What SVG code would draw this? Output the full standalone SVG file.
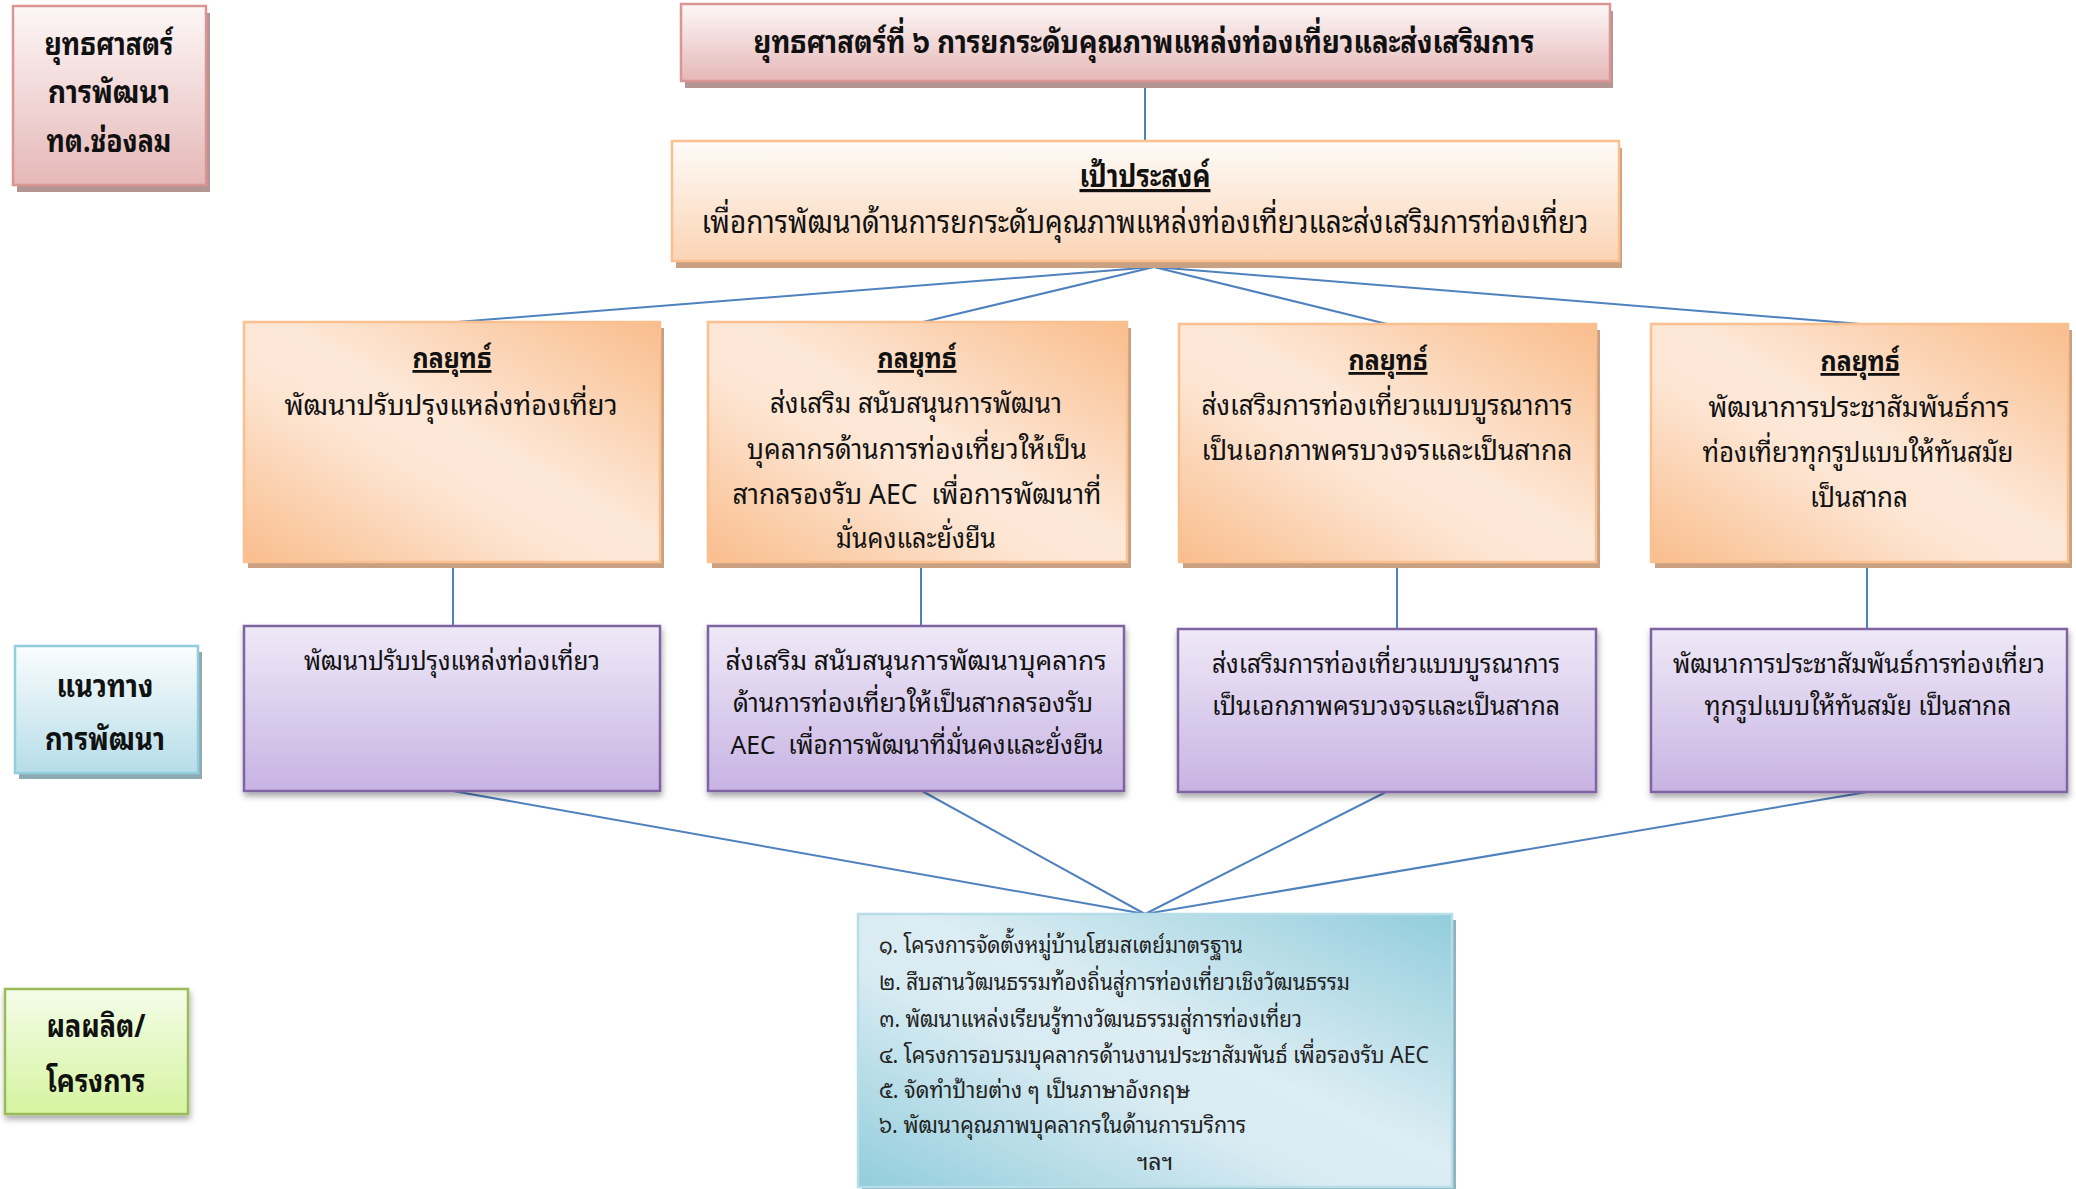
<svg xmlns="http://www.w3.org/2000/svg" width="2076" height="1189" viewBox="0 0 2076 1189">
<style>
  text { font-family: "Noto Sans Thai Looped", "Noto Serif Thai", "Loma", "Garuda", "Noto Sans Thai", "Tahoma", "Noto Sans", "Liberation Sans", sans-serif; fill: #111; }
  .b { font-weight: bold; }
  .h { font-size: 32px; }
  .m { font-size: 28px; }
  .s { font-size: 26px; }
  .p { font-size: 23px; fill: #222; }
  .c { text-anchor: middle; }
  .u { text-decoration: underline; font-weight: bold; }
  .conn { stroke: #4f81bd; stroke-width: 2; fill: none; }
  .pink { fill: url(#gPink); stroke: #d99694; stroke-width: 2.5; }
  .pinkSh { fill: #b39593; }
  .obj { fill: url(#gObj); stroke: #fac090; stroke-width: 2.5; }
  .orSh { fill: #c9a182; }
  .strat { fill: url(#gStrat); stroke: #fac090; stroke-width: 2.5; }
  .purp { fill: url(#gPurp); stroke: #8064a2; stroke-width: 2.5; filter: url(#soft); }
  .guide { fill: url(#gGuide); stroke: #93cddd; stroke-width: 2.5; }
  .guideSh { fill: #8eaab2; }
  .green { fill: url(#gGreen); stroke: #9bbb59; stroke-width: 2.5; filter: url(#soft); }
  .prod { fill: url(#gProd); stroke: #b7dde8; stroke-width: 2.5; }
  .prodSh { fill: #8fb4c1; }
</style>
<defs>
  <linearGradient id="gPink" x1="0" y1="0" x2="0" y2="1">
    <stop offset="0" stop-color="#fdf7f7"/>
    <stop offset="1" stop-color="#e5b8b7"/>
  </linearGradient>
  <linearGradient id="gObj" x1="0" y1="0" x2="0" y2="1">
    <stop offset="0" stop-color="#fefbf8"/>
    <stop offset="1" stop-color="#fbd4b4"/>
  </linearGradient>
  <linearGradient id="gStrat" x1="1" y1="0" x2="0" y2="1">
    <stop offset="0" stop-color="#f9bd8c"/>
    <stop offset="0.45" stop-color="#fde7d6"/>
    <stop offset="0.6" stop-color="#fde6d4"/>
    <stop offset="1" stop-color="#f9bd8c"/>
  </linearGradient>
  <linearGradient id="gPurp" x1="0" y1="0" x2="0" y2="1">
    <stop offset="0" stop-color="#efe9f7"/>
    <stop offset="1" stop-color="#c7b3e3"/>
  </linearGradient>
  <linearGradient id="gGuide" x1="0" y1="0" x2="0" y2="1">
    <stop offset="0" stop-color="#fafdfe"/>
    <stop offset="1" stop-color="#b6dde8"/>
  </linearGradient>
  <linearGradient id="gGreen" x1="0" y1="0" x2="0" y2="1">
    <stop offset="0" stop-color="#f4fde9"/>
    <stop offset="1" stop-color="#d5f4a0"/>
  </linearGradient>
  <linearGradient id="gProd" x1="1" y1="0" x2="0" y2="1">
    <stop offset="0" stop-color="#92cddc"/>
    <stop offset="0.45" stop-color="#dcedf3"/>
    <stop offset="0.6" stop-color="#d8ebf2"/>
    <stop offset="1" stop-color="#92cddc"/>
  </linearGradient>
  <filter id="soft" x="-10%" y="-10%" width="120%" height="130%">
    <feDropShadow dx="1" dy="4" stdDeviation="3" flood-color="#000" flood-opacity="0.35"/>
  </filter>
</defs>

<g id="connectors">
  <line class="conn" x1="1145" y1="88" x2="1145" y2="141"/>
  <line class="conn" x1="1154" y1="267" x2="457" y2="322"/>
  <line class="conn" x1="1154" y1="267" x2="923" y2="322"/>
  <line class="conn" x1="1154" y1="267" x2="1387" y2="324"/>
  <line class="conn" x1="1154" y1="267" x2="1861" y2="324"/>
  <line class="conn" x1="453" y1="568" x2="453" y2="626"/>
  <line class="conn" x1="921" y1="568" x2="921" y2="626"/>
  <line class="conn" x1="1397" y1="568" x2="1397" y2="629"/>
  <line class="conn" x1="1867" y1="568" x2="1867" y2="629"/>
  <line class="conn" x1="453" y1="791" x2="1145" y2="914"/>
  <line class="conn" x1="922" y1="791" x2="1145" y2="914"/>
  <line class="conn" x1="1386" y1="792" x2="1145" y2="914"/>
  <line class="conn" x1="1867" y1="792" x2="1145" y2="914"/>
</g>

<g id="label-strategy">
  <rect class="pinkSh" x="17" y="13" width="193" height="179"/>
  <rect class="pink" x="13" y="6" width="193" height="179"/>
  <text class="h b c" x="109" y="55" textLength="129" lengthAdjust="spacingAndGlyphs">ยุทธศาสตร์</text>
  <text class="h b c" x="109" y="103" textLength="122" lengthAdjust="spacingAndGlyphs">การพัฒนา</text>
  <text class="h b c" x="109" y="152" textLength="125" lengthAdjust="spacingAndGlyphs">ทต.ช่องลม</text>
</g>

<g id="title">
  <rect class="pinkSh" x="685" y="11" width="928" height="77"/>
  <rect class="pink" x="681" y="4" width="929" height="77"/>
  <text class="h b c" x="1144" y="53" textLength="781" lengthAdjust="spacingAndGlyphs">ยุทธศาสตร์ที่ ๖ การยกระดับคุณภาพแหล่งท่องเที่ยวและส่งเสริมการ</text>
</g>

<g id="objective">
  <rect class="orSh" x="676" y="148" width="946" height="120"/>
  <rect class="obj" x="672" y="141" width="947" height="120"/>
  <text class="h c u" x="1145" y="187" textLength="131" lengthAdjust="spacingAndGlyphs">เป้าประสงค์</text>
  <text class="h c" x="1145" y="233" textLength="887" lengthAdjust="spacingAndGlyphs">เพื่อการพัฒนาด้านการยกระดับคุณภาพแหล่งท่องเที่ยวและส่งเสริมการท่องเที่ยว</text>
</g>

<g id="strategy-1">
  <rect class="orSh" x="248" y="328" width="416" height="240"/>
  <rect class="strat" x="244" y="322" width="416" height="240"/>
  <text class="m c u" x="452" y="368" textLength="79" lengthAdjust="spacingAndGlyphs">กลยุทธ์</text>
  <text class="m c" x="451" y="415" textLength="333" lengthAdjust="spacingAndGlyphs">พัฒนาปรับปรุงแหล่งท่องเที่ยว</text>
</g>

<g id="strategy-2">
  <rect class="orSh" x="712" y="328" width="419" height="240"/>
  <rect class="strat" x="708" y="322" width="419" height="240"/>
  <text class="m c u" x="917" y="368" textLength="79" lengthAdjust="spacingAndGlyphs">กลยุทธ์</text>
  <text class="m c" x="916" y="413" textLength="292" lengthAdjust="spacingAndGlyphs">ส่งเสริม สนับสนุนการพัฒนา</text>
  <text class="m c" x="917" y="459" textLength="340" lengthAdjust="spacingAndGlyphs">บุคลากรด้านการท่องเที่ยวให้เป็น</text>
  <text class="m c" x="917" y="504" textLength="369" lengthAdjust="spacingAndGlyphs" xml:space="preserve">สากลรองรับ AEC  เพื่อการพัฒนาที่</text>
  <text class="m c" x="916" y="548" textLength="160" lengthAdjust="spacingAndGlyphs">มั่นคงและยั่งยืน</text>
</g>

<g id="strategy-3">
  <rect class="orSh" x="1183" y="330" width="417" height="238"/>
  <rect class="strat" x="1179" y="324" width="417" height="238"/>
  <text class="m c u" x="1388" y="370" textLength="79" lengthAdjust="spacingAndGlyphs">กลยุทธ์</text>
  <text class="m c" x="1387" y="415" textLength="371" lengthAdjust="spacingAndGlyphs">ส่งเสริมการท่องเที่ยวแบบบูรณาการ</text>
  <text class="m c" x="1387" y="460" textLength="371" lengthAdjust="spacingAndGlyphs">เป็นเอกภาพครบวงจรและเป็นสากล</text>
</g>

<g id="strategy-4">
  <rect class="orSh" x="1655" y="330" width="417" height="238"/>
  <rect class="strat" x="1651" y="324" width="417" height="238"/>
  <text class="m c u" x="1860" y="371" textLength="79" lengthAdjust="spacingAndGlyphs">กลยุทธ์</text>
  <text class="m c" x="1859" y="417" textLength="301" lengthAdjust="spacingAndGlyphs">พัฒนาการประชาสัมพันธ์การ</text>
  <text class="m c" x="1858" y="462" textLength="311" lengthAdjust="spacingAndGlyphs">ท่องเที่ยวทุกรูปแบบให้ทันสมัย</text>
  <text class="m c" x="1859" y="507" textLength="98" lengthAdjust="spacingAndGlyphs">เป็นสากล</text>
</g>

<g id="label-guideline">
  <rect class="guideSh" x="19" y="652" width="183" height="127"/>
  <rect class="guide" x="15" y="646" width="183" height="127"/>
  <text class="h b c" x="105" y="697" textLength="97" lengthAdjust="spacingAndGlyphs">แนวทาง</text>
  <text class="h b c" x="105" y="750" textLength="120" lengthAdjust="spacingAndGlyphs">การพัฒนา</text>
</g>

<g id="guideline-1">
  <rect class="purp" x="244" y="626" width="416" height="165"/>
  <text class="s c" x="452" y="670" textLength="296" lengthAdjust="spacingAndGlyphs">พัฒนาปรับปรุงแหล่งท่องเที่ยว</text>
</g>

<g id="guideline-2">
  <rect class="purp" x="708" y="626" width="416" height="165"/>
  <text class="s c" x="916" y="670" textLength="381" lengthAdjust="spacingAndGlyphs">ส่งเสริม สนับสนุนการพัฒนาบุคลากร</text>
  <text class="s c" x="913" y="712" textLength="360" lengthAdjust="spacingAndGlyphs">ด้านการท่องเที่ยวให้เป็นสากลรองรับ</text>
  <text class="s c" x="917" y="754" textLength="373" lengthAdjust="spacingAndGlyphs" xml:space="preserve">AEC  เพื่อการพัฒนาที่มั่นคงและยั่งยืน</text>
</g>

<g id="guideline-3">
  <rect class="purp" x="1178" y="629" width="418" height="163"/>
  <text class="s c" x="1386" y="673" textLength="348" lengthAdjust="spacingAndGlyphs">ส่งเสริมการท่องเที่ยวแบบบูรณาการ</text>
  <text class="s c" x="1386" y="715" textLength="348" lengthAdjust="spacingAndGlyphs">เป็นเอกภาพครบวงจรและเป็นสากล</text>
</g>

<g id="guideline-4">
  <rect class="purp" x="1651" y="629" width="416" height="163"/>
  <text class="s c" x="1859" y="673" textLength="372" lengthAdjust="spacingAndGlyphs">พัฒนาการประชาสัมพันธ์การท่องเที่ยว</text>
  <text class="s c" x="1858" y="715" textLength="307" lengthAdjust="spacingAndGlyphs">ทุกรูปแบบให้ทันสมัย เป็นสากล</text>
</g>

<g id="label-output">
  <rect class="green" x="5" y="989" width="183" height="125"/>
  <text class="h b c" x="96" y="1037" textLength="99" lengthAdjust="spacingAndGlyphs">ผลผลิต/</text>
  <text class="h b c" x="96" y="1092" textLength="99" lengthAdjust="spacingAndGlyphs">โครงการ</text>
</g>

<g id="projects">
  <rect class="prodSh" x="862" y="920" width="594" height="272"/>
  <rect class="prod" x="858" y="914" width="594" height="273"/>
  <text class="p" x="879" y="953" textLength="364" lengthAdjust="spacingAndGlyphs">๑. โครงการจัดตั้งหมู่บ้านโฮมสเตย์มาตรฐาน</text>
  <text class="p" x="879" y="990" textLength="471" lengthAdjust="spacingAndGlyphs">๒. สืบสานวัฒนธรรมท้องถิ่นสู่การท่องเที่ยวเชิงวัฒนธรรม</text>
  <text class="p" x="879" y="1027" textLength="423" lengthAdjust="spacingAndGlyphs">๓. พัฒนาแหล่งเรียนรู้ทางวัฒนธรรมสู่การท่องเที่ยว</text>
  <text class="p" x="879" y="1063" textLength="550" lengthAdjust="spacingAndGlyphs">๔. โครงการอบรมบุคลากรด้านงานประชาสัมพันธ์ เพื่อรองรับ AEC</text>
  <text class="p" x="879" y="1098" textLength="311" lengthAdjust="spacingAndGlyphs">๕. จัดทำป้ายต่าง ๆ เป็นภาษาอังกฤษ</text>
  <text class="p" x="879" y="1133" textLength="367" lengthAdjust="spacingAndGlyphs">๖. พัฒนาคุณภาพบุคลากรในด้านการบริการ</text>
  <text class="p c" x="1155" y="1170" textLength="36" lengthAdjust="spacingAndGlyphs">ฯลฯ</text>
</g>
</svg>
